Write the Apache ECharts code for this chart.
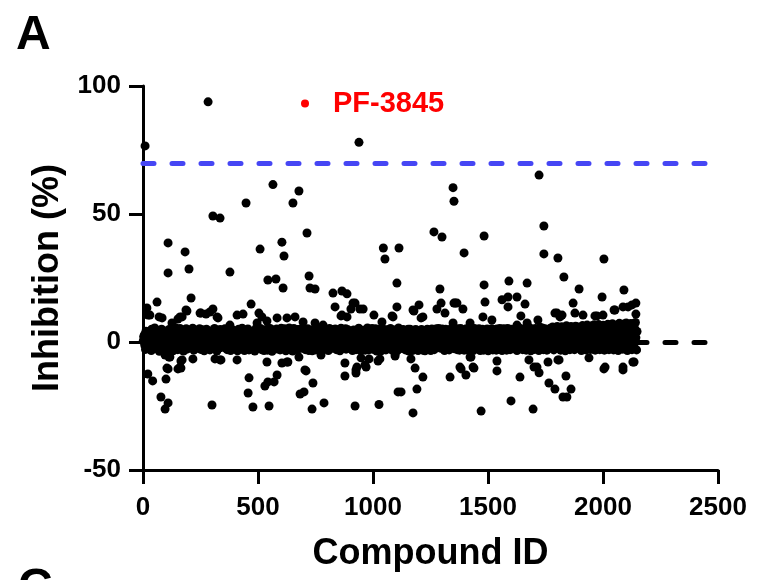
<!DOCTYPE html>
<html>
<head>
<meta charset="utf-8">
<script src="https://cdn.jsdelivr.net/npm/echarts@6/dist/echarts.min.js"></script>
<style>html,body{margin:0;padding:0;background:#fff;}#c{width:758px;height:580px;}</style>
</head>
<body>
<div id="c"></div>
<script>
// ---- data ----
const xTicks = [0, 500, 1000, 1500, 2000, 2500];
const yTicks = [-50, 0, 50, 100];
const hitThreshold = 70;
const baseline = 0;
const controlName = 'PF-3845';

// dense band, part 1: inhibition (%) for compound IDs coreStartId, +coreStep, ...
const coreStartId = 3;
const coreStep = 5;
const coreValues = [
 2.1,-1.4,4.2,0.3,3.1,-2.2,1.5,5.0,-0.8,2.6,0.9,-2.5,3.8,1.2,-1.1,4.6,0.1,2.9,-1.9,3.4,
 1.8,-0.5,4.9,-2.3,2.2,0.6,3.6,-1.6,1.0,4.4,-0.2,2.7,-2.8,3.9,0.8,1.9,-1.2,5.2,0.4,2.4,
 -1.8,3.3,1.1,-0.9,4.1,2.0,-2.4,0.7,3.7,-0.4,1.6,4.8,-1.5,2.5,0.2,3.0,-2.0,1.4,4.3,-0.7,
 2.8,0.5,-1.3,3.5,1.7,-2.6,4.5,0.0,2.3,-1.0,3.2,1.3,-0.3,5.1,-1.7,2.0,0.9,3.8,-2.1,1.5,
 4.0,-0.6,2.6,0.3,-1.9,3.4,1.8,-2.9,4.7,0.6,2.1,-1.1,3.0,1.0,-0.1,4.2,-2.2,2.9,0.4,1.7,
 -1.4,3.6,0.8,2.4,-2.5,4.4,1.2,-0.8,3.1,0.1,5.3,-1.6,2.2,-0.2,3.9,1.4,-2.7,2.7,0.7,4.1,
 1.9,-1.2,3.3,-0.4,2.5,0.0,4.6,-2.0,1.1,3.7,-0.9,2.8,1.5,-1.8,4.9,0.5,2.0,-2.4,3.5,1.0,
 -0.5,4.3,2.3,-1.5,0.9,3.0,-2.3,1.6,5.0,-0.7,2.6,0.2,3.8,-1.3,1.3,4.5,-0.1,2.1,-2.6,3.2,
 0.6,2.9,-1.0,4.0,1.7,-2.1,3.4,0.3,2.4,-0.6,4.8,1.0,-1.7,3.1,0.8,2.2,-2.8,3.9,1.4,-0.3,
 4.2,0.1,2.7,-1.4,3.6,1.2,-0.9,5.4,-2.0,2.0,0.5,3.3,-1.1,1.8,4.4,-0.4,2.5,0.0,3.7,-2.2,
 1.5,4.1,-0.8,2.8,0.4,-1.6,3.5,1.9,-2.5,4.7,0.7,2.3,-0.2,3.0,1.1,-1.9,4.3,0.2,2.6,-1.0,
 3.8,1.3,-2.3,2.1,0.6,4.6,-0.5,3.2,1.6,-1.3,5.0,0.0,2.4,-2.7,3.6,0.9,1.8,-0.6,4.0,2.2,
 -1.5,3.4,0.3,2.7,-0.9,4.5,1.4,-2.1,3.1,0.8,2.0,-1.2,4.9,0.5,2.9,-0.3,3.7,1.0,-2.4,4.2,
 1.7,-0.7,3.0,0.1,2.5,-1.8,4.4,1.2,-0.1,3.5,-2.6,2.2,0.6,5.2,-1.1,2.8,0.4,3.9,-0.8,1.5,
 4.7,-1.4,2.3,0.9,3.3,-2.0,1.8,4.1,-0.4,2.6,0.2,3.8,-1.6,1.1,4.6,-0.9,2.0,0.7,3.2,-2.3,
 2.4,0.0,4.3,-1.3,3.0,1.5,-0.6,5.1,0.8,2.1,-2.2,3.6,1.3,-1.0,4.0,0.3,2.7,-1.7,3.4,1.9,
 -0.2,4.8,1.0,2.9,-2.5,3.7,0.5,-1.2,4.5,1.6,2.3,-0.5,5.5,0.1,3.1,-1.9,2.0,4.2,-0.8,1.4,
 3.5,-1.1,2.6,0.6,4.9,-2.1,1.9,3.3,-0.3,2.2,5.0,0.4,-1.5,3.9,1.2,2.8,-0.7,4.6,0.9,2.5,
 -1.8,3.2,1.7,4.4,-0.4,2.1,5.3,0.2,-2.4,3.6,1.4,4.1,-1.0,2.7,0.6,5.6,-0.6,3.0,1.8,4.3,
 0.0,2.4,-1.6,4.8,1.1,3.5,-0.2,5.1,2.0,-1.3,3.9,0.7,6.0,-0.9,2.6,4.5,1.3,-2.0,3.3,5.4,
 1.6,-0.5,4.0,2.9,0.3,5.8,-1.2,3.1,1.9,4.7,-0.1,2.2,6.2,0.8,3.7,-1.7,4.4,1.0,5.5,2.5,
 -0.3,4.9,2.1,6.4,0.5,3.6,-1.4,5.2,1.7,4.1
];

// dense band, part 2: compound IDs core2StartId, +coreStep, ...
const core2StartId = 1;
const core2Values = [
 0.4,2.8,-2.9,1.6,-0.6,3.9,0.2,-3.3,2.4,0.7,5.5,1.1,-0.4,3.2,-3.6,0.9,5.0,-0.9,2.3,0.0,
 -3.1,2.9,0.5,3.8,-0.2,4.1,-3.4,0.8,5.6,1.3,-3.0,0.1,5.3,-0.6,2.5,-3.5,4.0,0.9,-2.8,1.0,
 4.4,-0.2,2.8,5.4,-3.2,1.9,4.6,-1.8,0.3,5.2,-2.9,3.1,0.5,-3.4,1.7,5.0,0.6,2.4,-3.1,2.7,
 -0.1,3.9,5.3,-0.7,-3.5,0.9,-2.4,4.9,0.6,2.9,-2.1,5.2,1.6,-3.0,3.4,0.2,-3.3,1.2,4.7,-0.5,
 1.1,3.2,-3.4,5.0,1.3,-0.2,5.4,0.4,-3.3,2.8,-0.5,5.1,-3.1,2.4,3.7,-0.6,1.5,-3.5,5.2,-0.4,
 2.7,-0.1,5.3,-3.0,1.0,-3.3,2.6,4.9,-3.2,5.2,-2.6,3.0,-3.6,4.6,0.1,-1.0,5.1,-0.5,3.7,-3.1,
 5.4,2.8,-0.1,5.2,-3.4,3.3,-2.5,5.5,-3.1,0.4,-3.5,5.3,-0.8,3.3,-3.0,2.6,-0.9,5.1,-0.6,4.4,
 2.6,-3.0,0.1,5.2,-3.3,4.6,0.7,-3.4,2.5,4.1,-3.1,5.1,-0.6,1.0,5.4,-3.2,1.3,4.6,0.4,-0.2,
 4.3,-3.3,5.3,-2.6,-0.3,4.9,-0.1,5.1,-3.0,2.7,0.5,-3.4,5.4,-0.4,3.6,-1.0,5.2,-0.9,4.8,2.1,
 -1.6,3.5,-3.3,4.7,-0.5,-3.0,3.1,1.4,5.0,-3.3,3.4,-2.4,4.6,-3.2,1.3,5.5,-3.1,4.4,-1.4,5.3,
 -2.9,0.5,5.2,-3.5,1.7,4.9,0.0,-3.4,5.2,-0.2,3.7,-3.1,4.8,-0.5,3.4,5.3,-3.1,1.8,-0.3,4.7,
 0.5,-3.3,5.5,-0.4,3.1,-2.5,4.9,-0.9,-3.1,3.4,1.8,-3.5,5.0,0.5,-3.3,4.6,-0.1,4.9,1.6,-3.3,
 4.5,-0.2,4.9,-3.2,2.6,-3.4,0.5,5.0,-0.4,4.6,-3.3,5.1,-0.6,-3.0,1.4,5.2,-1.1,5.3,0.4,-0.6,
 5.1,2.9,-3.3,5.0,-0.7,3.6,-3.1,0.2,5.3,-0.7,5.0,-0.4,3.8,-3.0,2.5,-3.2,5.3,-0.9,4.6,-3.2,
 0.9,5.2,-3.2,4.8,-0.6,5.0,-0.3,-3.3,5.3,-0.5,4.7,-1.2,5.2,-3.3,1.4,5.0,-3.2,4.5,-0.3,5.1,
 -3.4,4.4,-1.4,5.2,-3.1,4.6,-0.2,-3.2,3.5,-0.5,5.3,-0.6,-3.3,5.2,-2.1,5.1,-3.2,5.3,-0.2,-3.0,
 5.0,-2.6,3.7,-0.4,5.3,-3.3,4.0,5.5,-0.9,3.9,-3.0,4.8,-0.1,-3.2,5.3,-1.2,5.6,-3.4,3.6,-0.3,
 -2.9,5.3,-0.4,4.0,-3.3,5.8,-0.2,5.5,-3.0,5.2,-0.1,-3.2,4.9,-0.6,5.4,-0.5,5.9,-3.1,5.6,-0.8,
 6.1,-0.6,5.4,-3.2,6.0,-0.2,4.2,-3.4,6.3,-0.8,5.5,-3.0,6.1,-0.1,4.8,-3.0,6.2,-0.5,5.9,-1.2,
 5.8,-3.3,6.4,0.0,5.6,-3.1,6.6,-0.7,5.4,-2.9,6.3,-0.4,6.7,-3.2,5.5,-0.6,6.8,-3.0,6.2,-0.3,
 6.5,-3.2,5.9,-0.6,6.9,-3.0,6.3,-0.8,7.1,-3.1,6.0,-0.2,6.6,-3.3,7.3,-0.5,6.2,-2.8,7.0,-0.6,
 7.4,-3.3,6.6,-0.4,7.2,-3.0,6.9,-0.5,7.6,-3.1
];

// strong actives / outliers above the band [compound ID, inhibition %]
const highPts = [
 [9,76.6],[283,93.8],[939,78],[565,61.5],[678,59],[1722,65.2],[1348,60.3],[1352,55],
 [448,54.3],[652,54.3],[304,49.2],[335,48.4],[713,42.6],[1265,43],[1300,41],[1483,41.4],
 [1743,45.3],[1743,34.4],[109,38.7],[183,35.2],[604,39],[613,33.6],[509,36.3],[1045,36.7],
 [1052,32.4],[1113,36.7],[1396,34.8],[1804,32.8],[2004,32.4],[109,27],[200,28.5],[378,27.3],
 [543,24.2],[578,24.6],[609,21.1],[722,25.8],[726,21.1],[748,20.7],[1830,25.4],[1104,23],
 [1291,20.7],[1483,22.3],[1591,23.8],[1670,23],[1896,20.7],[2091,20.3],[826,19.1],[865,19.9],
 [887,18.8]
];

// moderate scatter just above the band
const midPts = [
 [209,17.2],[61,15.6],[17,13.3],[22,10.5],[70,9.8],[83,9.4],[187,12.5],[170,9.8],[152,9],
 [126,7.4],[304,12.9],[252,11.3],[274,10.9],[322,9.8],[470,14.8],[409,10.5],[435,10.9],
 [504,11.3],[517,9.8],[583,9.4],[626,9.4],[661,9.8],[835,13.7],[922,15.2],[904,12.9],
 [957,12.9],[865,10.5],[887,9.8],[1004,10.5],[1104,13.7],[1087,9.8],[1996,17.6],[1487,15.6],
 [1561,16.5],[1587,17.6],[1626,17.6],[1587,13.7],[1661,14.8],[1296,15.2],[1352,15.2],
 [1365,15.2],[1391,12.9],[1278,12.9],[1313,11.3],[1200,14.5],[1178,12.1],[1870,15.2],
 [1878,11.3],[1913,10.5],[1974,10.2],[2048,12.5],[2109,13.7],[2143,15.2],[2143,10.9],
 [1791,11.3],[1822,10.5],[1478,9.8],[1517,8.6],[1643,10.2],[1083,10.2],[1209,9.4],
 [30,10.5],[161,9.8],[191,12.1],[248,11.3],[291,11.7],[326,9.4],[378,6.6],[496,7.4],
 [539,8.2],[696,7.8],[748,7.4],[783,6.6],[861,10.2],[913,15.2],[943,12.9],[1039,7.8],
 [1174,12.5],[1217,9.8],[1422,7.4],[1626,6.6],[1670,7.4],[1717,8.6],[1800,11.3],[1813,9.8],
 [1965,10.2],[2087,13.7],[2126,14.5],[1357,15.2],[1348,7.4],[2000,10.5],[2052,12.5]
];

// scatter below the band
const lowPts = [
 [21,-12.5],[42,-15.2],[78,-21.5],[109,-23.8],[96,-26.2],[100,-14.5],[109,-10.5],[152,-10.5],
 [165,-10.2],[165,-7.4],[117,-5.9],[217,-6.6],[300,-24.6],[313,-6.6],[339,-7],[409,-7],
 [461,-14],[457,-19.9],[478,-25.4],[548,-25],[530,-17.2],[543,-15.6],[570,-15.6],[583,-12.9],
 [539,-7.8],[604,-8.2],[630,-7.8],[678,-5.9],[709,-11.3],[683,-20.3],[700,-19.5],[739,-16],
 [735,-26.2],[787,-23.8],[774,-5.1],[878,-8.2],[878,-13.3],[926,-10.9],[926,-12.1],[922,-25],
 [970,-9.8],[948,-6.2],[983,-6.6],[1030,-6.6],[1026,-24.4],[1096,-4.7],[1109,-19.5],
 [1174,-27.7],[1470,-27],[1696,-26.2],[1600,-23],[1122,-19.5],[1191,-18.4],[1826,-21.5],
 [1843,-21.5],[1861,-18.4],[1791,-18.4],[1765,-16],[1839,-13.3],[1639,-13.7],[1722,-12],
 [1700,-9.8],[1678,-7],[1761,-7.8],[1809,-7],[1539,-11.3],[1539,-7.4],[1383,-10.5],
 [1404,-12.9],[1439,-10.2],[1335,-13.7],[1217,-13.7],[1183,-10.2],[1165,-6.6],[1939,-6.2],
 [2004,-10.5],[2087,-10.9],[2135,-7.8],[1426,-5.9],[1096,-5.5],[96,-5.1],[113,-5.9],
 [104,-10.2],[170,-7],[161,-9.8],[335,-7],[626,-7.8],[704,-10.9],[930,-9.8],[965,-9],
 [1022,-7.4],[1422,-5.9],[1435,-9.8],[1378,-9.8],[1713,-9.8],[1804,-7],[2009,-9.8],
 [2087,-9.8],[2130,-7.8]
];

// ---- build ----
const coreData = coreValues.map((v, i) => [coreStartId + i * coreStep, v]);
const core2Data = core2Values.map((v, i) => [core2StartId + i * coreStep, v]);
const allPts = coreData.concat(core2Data, midPts, lowPts, highPts);

const FONT = "'Liberation Sans', Arial, Helvetica, sans-serif";
const chart = echarts.init(document.getElementById('c'), null, {renderer: 'canvas'});

chart.setOption({
  animation: false,
  backgroundColor: '#ffffff',
  grid: {left: 143, top: 86, width: 575, height: 384, containLabel: false},
  legend: {
    left: 296, top: 84,
    data: [{name: controlName, icon: 'circle', itemStyle: {color: '#ff0000', opacity: 1}}],
    itemWidth: 8, itemHeight: 8,
    textStyle: {color: '#ff0000', fontFamily: FONT, fontWeight: 'bold', fontSize: 29, padding: [0, 0, 0, 19]},
    selectedMode: false
  },
  xAxis: {
    type: 'value', min: xTicks[0], max: xTicks[xTicks.length - 1], interval: 500,
    name: 'Compound ID', nameLocation: 'middle', nameGap: 66,
    nameTextStyle: {fontFamily: FONT, fontWeight: 'bold', fontSize: 36, color: '#000'},
    axisLine: {onZero: false, lineStyle: {color: '#000', width: 3}},
    axisTick: {show: true, length: 14, lineStyle: {color: '#000', width: 3}},
    axisLabel: {margin: 25, fontFamily: FONT, fontWeight: 'bold', fontSize: 26, color: '#000',
                formatter: v => String(v)},
    splitLine: {show: false}
  },
  yAxis: {
    type: 'value', min: yTicks[0], max: yTicks[yTicks.length - 1], interval: 50,
    name: 'Inhibition (%)', nameLocation: 'middle', nameGap: 77,
    nameTextStyle: {fontFamily: FONT, fontWeight: 'bold', fontSize: 36, color: '#000'},
    axisLine: {show: true, onZero: false, lineStyle: {color: '#000', width: 3}},
    axisTick: {show: true, length: 14, lineStyle: {color: '#000', width: 3}},
    axisLabel: {margin: 22, fontFamily: FONT, fontWeight: 'bold', fontSize: 26, color: '#000',
                formatter: v => String(v)},
    splitLine: {show: false}
  },
  graphic: [
    {type: 'text', left: 16, top: 12, style: {text: 'A', font: 'bold 48px ' + FONT, fill: '#000'}},
    {type: 'text', left: 18, top: 565, style: {text: 'C', font: 'bold 48px ' + FONT, fill: '#000'}}
  ],
  series: [
    {
      name: 'lines', type: 'line', data: [], z: 1,
      markLine: {
        silent: true, symbol: 'none', label: {show: false},
        data: [
          {yAxis: hitThreshold, lineStyle: {color: '#4646f4', width: 5, type: [11, 18], cap: 'round'}},
          {yAxis: baseline, lineStyle: {color: '#000000', width: 5, type: [11, 18], cap: 'round'}}
        ]
      }
    },
    {
      name: 'compounds', type: 'scatter', data: allPts, z: 3,
      symbol: 'circle', symbolSize: 9, large: false, progressive: 0,
      itemStyle: {color: '#000000', opacity: 1}
    },
    {
      name: controlName, type: 'scatter', data: [], z: 4,
      symbolSize: 8, itemStyle: {color: '#ff0000', opacity: 1}
    }
  ]
});
</script>
</body>
</html>
